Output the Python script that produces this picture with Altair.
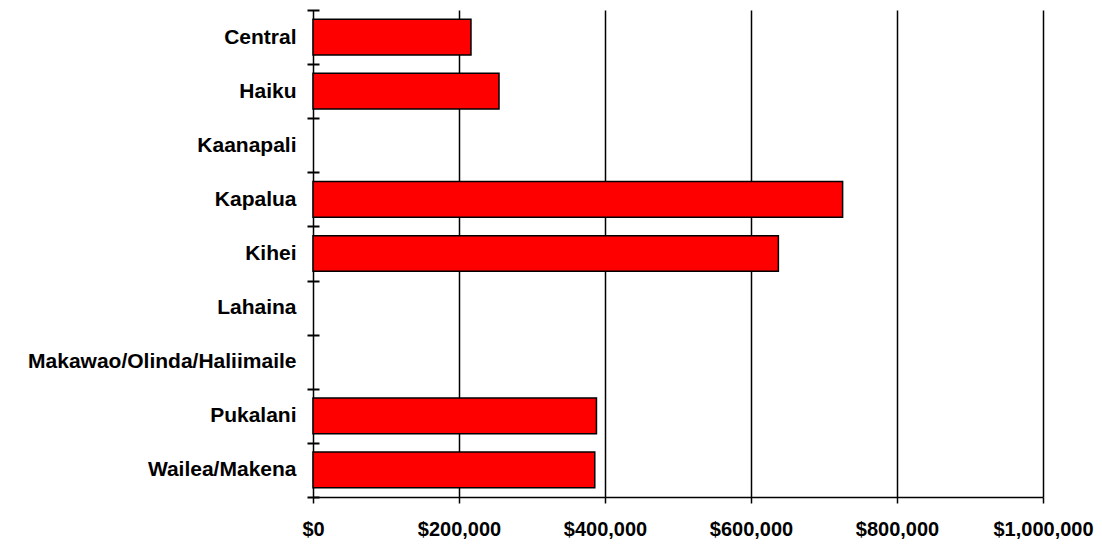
import altair as alt
import pandas as pd

regions = ["Central", "Haiku", "Kaanapali", "Kapalua", "Kihei", "Lahaina",
           "Makawao/Olinda/Haliimaile", "Pukalani", "Wailea/Makena"]
values = [216400, 254800, None, 725500, 637500, None, None, 388300, 386000]
x_ticks = [0, 200000, 400000, 600000, 800000, 1000000]

df = pd.DataFrame({"region": regions, "value": values})

FONT = "Liberation Sans"

chart = alt.Chart(df).transform_filter(
    "datum.value != null"
).mark_bar(
    color="#FF0000", stroke="black", strokeWidth=1.5, height={"band": 0.66}
).encode(
    x=alt.X("value:Q",
            scale=alt.Scale(domain=[0, 1000000], nice=False),
            axis=alt.Axis(values=x_ticks, format="$,.0f", title=None,
                          grid=True, gridColor="black", gridWidth=1.5, gridOpacity=1,
                          domain=True, domainColor="black", domainWidth=1.5,
                          ticks=True, tickColor="black", tickSize=6, tickWidth=1.5,
                          labelFlush=False, labelOverlap=False, labelBound=False,
                          labelFont=FONT, labelFontSize=20, labelFontWeight="bold",
                          labelColor="black", labelPadding=16)),
    y=alt.Y("region:N",
            scale=alt.Scale(domain=regions, paddingInner=0, paddingOuter=0),
            axis=alt.Axis(title=None, domain=False, offset=-6,
                          ticks=True, tickBand="extent", tickSize=12, tickWidth=2,
                          tickColor="black", grid=False,
                          labelFont=FONT, labelFontSize=21, labelFontWeight="bold",
                          labelColor="black", labelPadding=11, labelLimit=400)),
).properties(
    width=730, height=487,
    autosize=alt.AutoSizeParams(type="none"),
    padding={"left": 313, "top": 10, "right": 59, "bottom": 47},
).configure(
    background="white",
    view=alt.ViewConfig(stroke=None),
)

chart.save("out.html", embed_options={"renderer": "svg", "actions": False})
